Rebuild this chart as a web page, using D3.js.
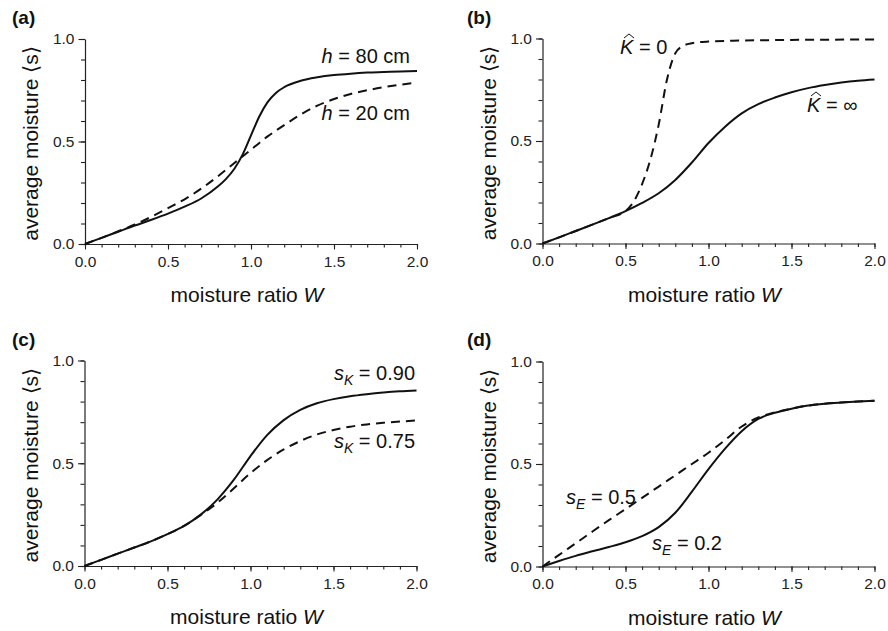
<!DOCTYPE html>
<html>
<head>
<meta charset="utf-8">
<script src="https://cdn.jsdelivr.net/npm/d3@7"></script>
<style>
  html, body { margin: 0; padding: 0; background: #fff; }
  svg { display: block; }
  text { font-family: "Liberation Sans", Arial, Helvetica, sans-serif; fill: #111; }
</style>
</head>
<body>
<svg id="chart" width="888" height="631"></svg>
<script>
// ---------------- data ----------------
const xTicks = [0, 0.5, 1.0, 1.5, 2.0];
const yTicks = [0, 0.5, 1.0];
const minorTicksX = d3.range(0, 21).map(i => i / 10);
const minorTicksY = d3.range(0, 11).map(i => i / 10);

// panel (a)
const wA  = [0,0.1,0.2,0.3,0.4,0.5,0.6,0.7,0.8,0.85,0.9,0.95,1.0,1.05,1.1,1.15,1.2,1.3,1.4,1.5,1.6,1.7,1.8,1.9,2.0];
const h80 = [0,0.03,0.06,0.09,0.118,0.148,0.182,0.222,0.28,0.318,0.367,0.437,0.53,0.622,0.692,0.737,0.765,0.796,0.813,0.824,0.831,0.836,0.839,0.842,0.844];
const h20 = [0,0.03,0.062,0.095,0.133,0.175,0.218,0.27,0.33,0.362,0.395,0.428,0.46,0.493,0.525,0.553,0.58,0.632,0.675,0.707,0.732,0.75,0.765,0.777,0.788];

// panel (b)
const wB    = [0,0.1,0.2,0.3,0.4,0.5,0.6,0.7,0.8,0.9,1.0,1.1,1.2,1.3,1.4,1.5,1.6,1.7,1.8,1.9,2.0];
const kInf  = [0,0.03,0.061,0.092,0.124,0.158,0.198,0.245,0.31,0.395,0.49,0.57,0.635,0.68,0.712,0.738,0.758,0.773,0.785,0.794,0.80];
const wB0   = [0,0.1,0.2,0.3,0.4,0.5,0.55,0.6,0.65,0.7,0.75,0.8,0.85,0.9,1.0,1.2,1.5,2.0];
const kZero = [0,0.03,0.061,0.092,0.124,0.158,0.205,0.29,0.41,0.58,0.80,0.928,0.965,0.977,0.985,0.99,0.993,0.995];

// panel (c)
const wC   = [0,0.1,0.2,0.3,0.4,0.5,0.6,0.7,0.8,0.9,1.0,1.1,1.2,1.3,1.4,1.5,1.6,1.7,1.8,1.9,2.0];
const sK90 = [0,0.03,0.06,0.09,0.12,0.155,0.195,0.25,0.323,0.42,0.535,0.637,0.71,0.76,0.792,0.812,0.826,0.836,0.844,0.85,0.854];
const sK75 = [0,0.03,0.06,0.09,0.12,0.155,0.195,0.248,0.307,0.378,0.452,0.515,0.567,0.608,0.64,0.662,0.678,0.689,0.697,0.703,0.708];

// panel (d)
const wD  = [0,0.1,0.2,0.3,0.4,0.5,0.6,0.7,0.8,0.9,1.0,1.1,1.2,1.3,1.4,1.5,1.6,1.7,1.8,1.9,2.0];
const sE2 = [0,0.027,0.052,0.074,0.095,0.118,0.148,0.192,0.262,0.365,0.475,0.575,0.66,0.72,0.75,0.77,0.785,0.794,0.80,0.805,0.809];
const sE5 = [0,0.057,0.113,0.17,0.226,0.28,0.335,0.39,0.445,0.5,0.555,0.617,0.683,0.727,0.752,0.77,0.785,0.794,0.80,0.805,0.809];

// ---------------- layout ----------------
const svg = d3.select("#chart");

const panels = [
  { id: "(a)", lab: [12, 24], box: [85, 417, 39, 244],
    series: [{ w: wA, s: h80, dash: null }, { w: wA, s: h20, dash: "9,6" }] },
  { id: "(b)", lab: [467, 24], box: [542.5, 874.5, 38.5, 243.5],
    series: [{ w: wB, s: kInf, dash: null }, { w: wB0, s: kZero, dash: "9,6" }] },
  { id: "(c)", lab: [12, 346], box: [84.5, 416.5, 360.5, 566],
    series: [{ w: wC, s: sK90, dash: null }, { w: wC, s: sK75, dash: "9,6" }] },
  { id: "(d)", lab: [467, 346], box: [542.5, 874.5, 361.5, 566.5],
    series: [{ w: wD, s: sE2, dash: null }, { w: wD, s: sE5, dash: "9,6" }] }
];

panels.forEach(p => {
  const [x0, x1, yT, yB] = p.box;
  const x = d3.scaleLinear().domain([0, 2]).range([x0, x1]);
  const y = d3.scaleLinear().domain([0, 1]).range([yB, yT]);
  p.x = x; p.y = y;
  const g = svg.append("g");

  // minor ticks
  g.append("g").attr("transform", `translate(0,${yB})`)
    .call(d3.axisBottom(x).tickValues(minorTicksX).tickSize(3.5).tickFormat(""))
    .call(a => a.select(".domain").remove());
  g.append("g").attr("transform", `translate(${x0},0)`)
    .call(d3.axisLeft(y).tickValues(minorTicksY).tickSize(4).tickFormat(""))
    .call(a => a.select(".domain").remove());

  // major axes
  const ax = g.append("g").attr("transform", `translate(0,${yB})`)
    .call(d3.axisBottom(x).tickValues(xTicks).tickSize(5.5).tickSizeOuter(0).tickPadding(6).tickFormat(d3.format(".1f")));
  const ay = g.append("g").attr("transform", `translate(${x0},0)`)
    .call(d3.axisLeft(y).tickValues(yTicks).tickSize(6.5).tickSizeOuter(0).tickPadding(4).tickFormat(d3.format(".1f")));
  [ax, ay].forEach(a => {
    a.selectAll("text").style("font-size", "15.5px").style("fill", "#222")
      .style("font-family", '"Liberation Sans", Arial, sans-serif');
  });
  g.selectAll(".tick line").attr("stroke", "#222").attr("stroke-width", 1.1);
  g.selectAll(".domain").attr("stroke", "#222").attr("stroke-width", 1.2);

  // axis titles
  const xt = g.append("text")
    .attr("x", (x0 + x1) / 2 - 4).attr("y", yB + 58)
    .attr("text-anchor", "middle").style("font-size", "21px");
  xt.append("tspan").text("moisture ratio ");
  xt.append("tspan").style("font-style", "italic").text("W");

  g.append("text")
    .attr("transform", `translate(${x0 - 47},${(yT + yB) / 2 + 2}) rotate(-90)`)
    .attr("text-anchor", "middle").style("font-size", "21px")
    .text("average moisture \u27E8s\u27E9");

  // panel label
  g.append("text").attr("x", p.lab[0]).attr("y", p.lab[1])
    .style("font-size", "19px").style("font-weight", "bold").text(p.id);

  // curves
  const line = d3.line().x(d => x(d[0])).y(d => y(d[1])).curve(d3.curveMonotoneX);
  // draw dashed first, solid on top
  p.series.slice().reverse().forEach(se => {
    const pts = se.w.map((w, i) => [w, se.s[i]]);
    g.append("path").datum(pts).attr("d", line)
      .attr("fill", "none").attr("stroke", "#111").attr("stroke-width", 2)
      .attr("stroke-dasharray", se.dash);
  });
});

// ---------------- annotations ----------------
function label(x, y, parts) {
  const t = svg.append("text").attr("x", x).attr("y", y).style("font-size", "20px");
  parts.forEach(pt => {
    const s = t.append("tspan").text(pt.t);
    if (pt.i) s.style("font-style", "italic");
    if (pt.sub) s.attr("dy", 5).style("font-size", "14px");
    if (pt.back) s.attr("dy", -5);
  });
  return t;
}
function hat(cx, cy) {
  svg.append("path")
    .attr("d", `M${cx - 5},${cy + 3} L${cx},${cy - 1} L${cx + 5},${cy + 3}`)
    .attr("fill", "none").attr("stroke", "#111").attr("stroke-width", 1);
}
// (a)
label(410, 63, [{ t: "h", i: 1 }, { t: " = 80 cm" }]).attr("text-anchor", "end");
label(410, 120, [{ t: "h", i: 1 }, { t: " = 20 cm" }]).attr("text-anchor", "end");
// (b)
label(620, 54, [{ t: "K", i: 1 }, { t: " = 0" }]);
hat(629, 35);
label(807, 112, [{ t: "K", i: 1 }, { t: " = \u221E" }]);
hat(816, 93);
// (c)
label(415, 380, [{ t: "s", i: 1 }, { t: "K", i: 1, sub: 1 }, { t: " = 0.90", back: 1 }]).attr("text-anchor", "end");
label(415, 448, [{ t: "s", i: 1 }, { t: "K", i: 1, sub: 1 }, { t: " = 0.75", back: 1 }]).attr("text-anchor", "end");
// (d)
label(566, 504, [{ t: "s", i: 1 }, { t: "E", i: 1, sub: 1 }, { t: " = 0.5", back: 1 }]);
label(652, 550, [{ t: "s", i: 1 }, { t: "E", i: 1, sub: 1 }, { t: " = 0.2", back: 1 }]);
</script>
</body>
</html>
